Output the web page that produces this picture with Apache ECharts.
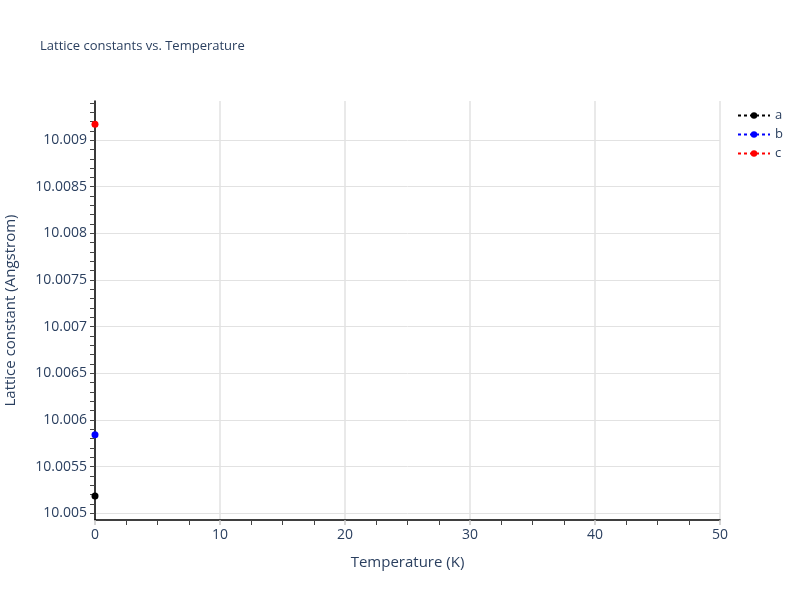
<!DOCTYPE html>
<html>
<head>
<meta charset="utf-8">
<script src="https://cdn.jsdelivr.net/npm/echarts@6/dist/echarts.min.js"></script>
<style>
  html, body { margin: 0; padding: 0; background: #fff; }
  #chart { width: 800px; height: 600px; }
</style>
</head>
<body>
<div id="chart"></div>
<script>
// data
var seriesNames = ['a', 'b', 'c'];
var seriesColors = ['#000000', '#0000ff', '#ff0000'];
var temperature = [0];
var latticeA = [10.005186];
var latticeB = [10.005841];
var latticeC = [10.009169];

// tick labels on the y axis
var yMajorTicks = [10.005, 10.0055, 10.006, 10.0065, 10.007, 10.0075, 10.008, 10.0085, 10.009];
var yMinorTicks = [10.0049, 10.005, 10.0051, 10.0052, 10.0053, 10.0054, 10.0055, 10.0056, 10.0057, 10.0058, 10.0059,
    10.006, 10.0061, 10.0062, 10.0063, 10.0064, 10.0065, 10.0066, 10.0067, 10.0068, 10.0069,
    10.007, 10.0071, 10.0072, 10.0073, 10.0074, 10.0075, 10.0076, 10.0077, 10.0078, 10.0079,
    10.008, 10.0081, 10.0082, 10.0083, 10.0084, 10.0085, 10.0086, 10.0087, 10.0088, 10.0089,
    10.009, 10.0091, 10.0092, 10.0093, 10.0094];
var yMin = 10.004928;
var yMax = 10.009419;

var textColor = '#2a3f5f';
var font = 'Open Sans';

var myChart = echarts.init(document.getElementById('chart'));

var allValues = [latticeA, latticeB, latticeC];
var series = allValues.map(function (vals, i) {
    return {
        name: seriesNames[i],
        type: 'line',
        yAxisIndex: 0,
        data: temperature.map(function (t, j) { return [t, vals[j]]; }),
        symbol: 'circle',
        symbolSize: 7,
        clip: false,
        itemStyle: {color: seriesColors[i]},
        lineStyle: {color: seriesColors[i], type: [3, 3], width: 2}
    };
});

myChart.setOption({
    animation: false,
    title: {
        text: 'Lattice constants vs. Temperature',
        left: 35,
        top: 35,
        textStyle: {fontFamily: font, fontSize: 13, fontWeight: 'normal', color: textColor}
    },
    legend: {
        orient: 'vertical',
        left: 732,
        top: 104,
        itemWidth: 32,
        itemHeight: 8,
        itemGap: 6,
        data: seriesNames,
        textStyle: {fontFamily: font, fontSize: 13, color: textColor}
    },
    grid: {left: 95, right: 80, top: 101, bottom: 80, outerBoundsMode: 'none'},
    xAxis: {
        type: 'value',
        min: 0,
        max: 50,
        interval: 10,
        name: 'Temperature (K)',
        nameLocation: 'middle',
        nameGap: 35,
        nameTextStyle: {fontFamily: font, fontSize: 15, color: textColor},
        axisLine: {onZero: false, lineStyle: {color: '#000', width: 1.5}},
        axisTick: {show: true, length: 5, lineStyle: {color: '#c8c8c8', width: 1.5}},
        minorTick: {show: true, splitNumber: 4, length: 5, lineStyle: {color: '#444', width: 1}},
        axisLabel: {fontFamily: font, fontSize: 14, color: textColor, margin: 8},
        splitLine: {show: true, lineStyle: {color: '#e2e2e2', width: 1.5}}
    },
    yAxis: [
        {
            type: 'value',
            min: yMin,
            max: yMax,
            name: 'Lattice constant (Angstrom)',
            nameLocation: 'middle',
            nameGap: 77,
            nameTextStyle: {fontFamily: font, fontSize: 15, color: textColor},
            axisLine: {show: true, onZero: false, lineStyle: {color: '#000', width: 1.5}},
            axisTick: {show: true, length: 5, customValues: yMajorTicks, lineStyle: {color: '#444'}},
            axisLabel: {
                fontFamily: font, fontSize: 14, color: textColor, margin: 8,
                customValues: yMajorTicks,
                formatter: function (v) { return String(parseFloat(v.toFixed(4))); }
            },
            splitLine: {show: true, lineStyle: {color: '#e2e2e2', width: 1}}
        },
        {
            type: 'value',
            position: 'left',
            min: yMin,
            max: yMax,
            axisLine: {show: false},
            axisTick: {show: true, length: 5, customValues: yMinorTicks, lineStyle: {color: '#444'}},
            axisLabel: {show: false},
            splitLine: {show: false}
        }
    ],
    series: series
});
</script>
</body>
</html>
